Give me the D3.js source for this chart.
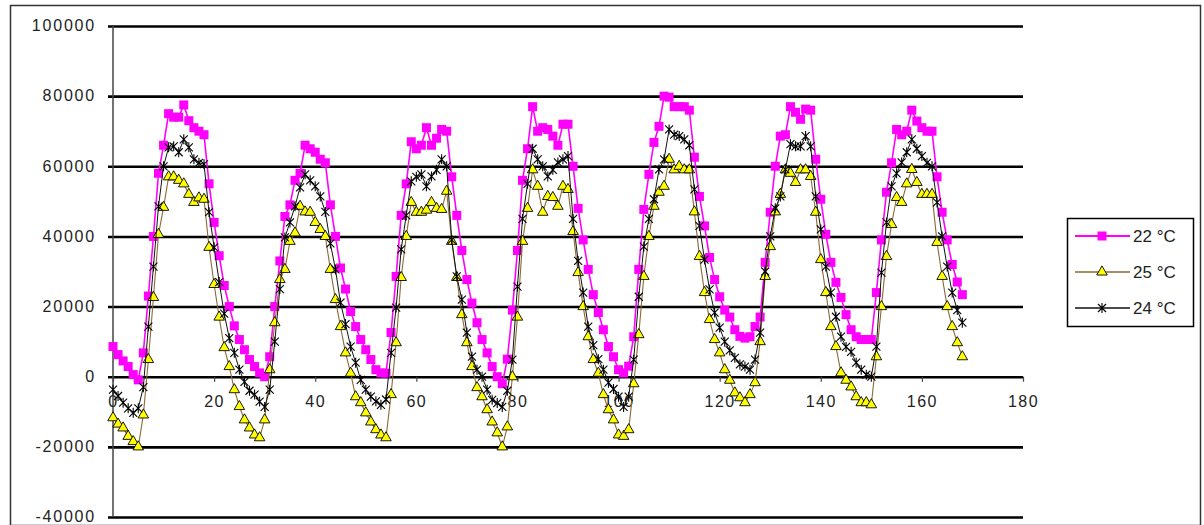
<!DOCTYPE html>
<html>
<head>
<meta charset="utf-8">
<script src="https://cdn.jsdelivr.net/npm/d3@7"></script>
<style>
    body { margin: 0; background: #fff; }
    #chart-area text { font-family: "Liberation Sans", Arial, sans-serif; fill: #222; }
</style>
</head>
<body>
<div id="chart-area"></div>
<script>

// hourly values, index = hour
let temp22 = [
    8600, 6300, 4500, 2900, 600, -900, 6800, 23000, 40000, 58000,
    66000, 75000, 74000, 74000, 77500, 73000, 71000, 70000, 69000, 55000,
    44000, 34500, 26000, 20000, 14500, 10600, 7700, 4900, 2900, 1100,
    0, 5700, 20000, 33000, 45700, 49000, 56000, 58000, 66000, 65000,
    64000, 62000, 61000, 49000, 40000, 31000, 25000, 18600, 14300, 10600,
    7700, 4900, 2000, 1100, 1000, 12600, 28600, 46000, 55000, 67000,
    65000, 66000, 71000, 66000, 68000, 70500, 70000, 57000, 46000, 36000,
    27700, 21000, 15400, 10600, 6800, 2900, 0, -2000, 5000, 19000,
    36000, 56000, 65000, 77000, 70000, 71000, 70500, 68600, 66000, 72000,
    72000, 60000, 48000, 39000, 30600, 23400, 18300, 13400, 8600, 5700,
    2000, 1100, 3000, 11400, 30600, 47700, 57700, 66800, 71400, 80000,
    79700, 77000, 77000, 77000, 76000, 62600, 51400, 43000, 34000, 27700,
    22800, 19000, 17000, 13400, 11500, 11000, 11400, 14300, 17000, 32600,
    46900, 60000, 68600, 69000, 77000, 75400, 73400, 76300, 76000, 62000,
    50600, 40600, 32600, 26900, 22600, 17700, 13400, 11400, 10600, 10600,
    10600, 24000, 39000, 52600, 61000, 70500, 69000, 70000, 76000, 72900,
    71000, 70000, 70000, 57000, 46900, 39000, 32000, 27000, 23400
];

let temp25 = [
    -11700, -13500, -14600, -17000, -18500, -20000, -10900, 4900, 22600, 40600,
    48300, 57000, 57000, 56000, 55000, 52000, 49700, 51000, 50600, 36900,
    26300, 17000, 8300, 2900, -3700, -8500, -12300, -14600, -16600, -17400,
    -12300, 2000, 15400, 27700, 30600, 38600, 41000, 48600, 47000, 46900,
    44000, 42000, 40000, 30600, 22000, 14300, 6800, 1000, -5700, -7400,
    -10300, -12900, -15100, -16600, -17400, -5100, 9700, 28300, 40000, 49700,
    46900, 46900, 47500, 49700, 48000, 47700, 52900, 38600, 28300, 17700,
    9700, 2900, -3100, -5700, -9400, -12900, -16000, -20000, -14300, 0,
    17000, 38600, 48000, 59000, 54300, 46900, 51400, 51100, 48600, 54300,
    53400, 41400, 29700, 20000, 11400, 4900, 1000, -5100, -9400, -12300,
    -16600, -17000, -15100, -2000, 12000, 28600, 40000, 48600, 52600, 54300,
    62000, 59000, 60000, 59000, 59000, 47000, 34300, 24000, 16300, 10600,
    6800, 2000, -1000, -4600, -6000, -7400, -5100, -1700, 10000, 28600,
    37100, 47000, 52000, 59000, 58000, 55400, 59000, 59000, 57100, 46900,
    33400, 24000, 14300, 8600, 1100, -1000, -2900, -5700, -7400, -7400,
    -8000, 5700, 20000, 34300, 43400, 51100, 49700, 55000, 59100, 55400,
    52000, 52000, 52000, 38300, 28600, 20000, 14300, 9700, 5700
];

let temp24 = [
    -3700, -5500, -7400, -9000, -10300, -9000, -3000, 14300, 31400, 48600,
    60000, 65400, 65700, 64000, 67700, 65400, 62000, 61000, 60600, 46900,
    36900, 27000, 18000, 11000, 6800, 2000, -1500, -4000, -5100, -7100,
    -8600, -3700, 10000, 25000, 39700, 44000, 48600, 54000, 57700, 56000,
    54300, 51400, 47000, 38000, 30600, 21100, 15000, 8600, 4000, -900,
    -3700, -5700, -7000, -8000, -6500, 6800, 19700, 36300, 46000, 55700,
    57000, 57700, 54300, 57100, 59000, 62000, 60000, 39000, 28600, 22000,
    12600, 5700, 2000, 0, -3700, -6600, -7500, -8600, -4000, 4900,
    25700, 45000, 55000, 65000, 62000, 60000, 57100, 59000, 61100, 62000,
    62900, 45000, 33000, 24000, 14300, 9000, 5000, 2000, -1700, -3500,
    -5700, -8600, -5700, 4900, 22800, 37100, 45000, 50600, 59100, 62000,
    70500, 69000, 68600, 67700, 66000, 53400, 43000, 33400, 24900, 18300,
    14000, 10000, 7500, 5400, 3500, 2900, 2000, 4900, 12600, 30000,
    40000, 48000, 51400, 59100, 66300, 65700, 65700, 68600, 65700, 51400,
    42000, 31400, 24000, 17100, 11400, 8500, 7100, 4000, 2000, 570,
    0, 8600, 29700, 44000, 54300, 58000, 61100, 64000, 67700, 65000,
    62900, 61000, 60000, 49700, 40000, 31400, 24000, 19000, 15400
];

let seriesNames = ["22 °C", "25 °C", "24 °C"];
let xTickValues = [0, 20, 40, 60, 80, 100, 120, 140, 160, 180];
let yTickValues = [-40000, -20000, 0, 20000, 40000, 60000, 80000, 100000];


class HourlyLoadVis {

    constructor(parentElement, series) {
        this.parentElement = parentElement;
        this.series = series;
        this.initVis();
    }

    initVis() {
        let vis = this;

        vis.margin = {top: 26, right: 181, bottom: 8, left: 113};
        vis.totalWidth = 1204;
        vis.totalHeight = 525;
        vis.width = vis.totalWidth - vis.margin.left - vis.margin.right;
        vis.height = vis.totalHeight - vis.margin.top - vis.margin.bottom;

        vis.root = d3.select("#" + vis.parentElement).append("svg")
            .attr("width", vis.totalWidth)
            .attr("height", vis.totalHeight);

        // outer chart frame
        vis.root.append("rect")
            .attr("x", 10.5).attr("y", 5.5)
            .attr("width", 1190).attr("height", 520)
            .attr("fill", "#fff")
            .attr("stroke", "#333")
            .attr("stroke-width", 1.5);

        vis.svg = vis.root.append("g")
            .attr("transform", `translate(${vis.margin.left}, ${vis.margin.top})`);

        vis.x = d3.scaleLinear().domain([0, 180]).range([0, vis.width]);
        vis.y = d3.scaleLinear().domain([-40000, 100000]).range([vis.height, 0]);

        vis.wrangleData();
    }

    wrangleData() {
        let vis = this;
        vis.displayData = vis.series.map(s => ({
            name: s.name,
            values: s.values.map((v, i) => ({hour: i, value: v}))
        }));
        vis.updateVis();
    }

    updateVis() {
        let vis = this;

        // plain hyphen for negatives, like the original
        let numFormat = d => String(d);

        // horizontal gridlines + left ticks
        let yAxis = d3.axisLeft(vis.y)
            .tickValues(yTickValues)
            .tickSize(-vis.width - 5)
            .tickPadding(12)
            .tickFormat(numFormat);

        let gy = vis.svg.append("g")
            .attr("class", "y-axis")
            .attr("transform", "translate(-5,0)")
            .call(yAxis);
        gy.select(".domain").remove();
        gy.selectAll("line").attr("stroke", "#000").attr("stroke-width", 2.6);
        gy.selectAll("text")
            .attr("dy", "0.3em")
            .style("font-size", "16px")
            .style("letter-spacing", "1.8px");

        // vertical axis line
        vis.svg.append("line")
            .attr("x1", 0).attr("x2", 0)
            .attr("y1", 0).attr("y2", vis.height)
            .attr("stroke", "#444")
            .attr("stroke-width", 1.5);

        // x axis sits on y = 0
        let xAxis = d3.axisBottom(vis.x)
            .tickValues(xTickValues)
            .tickSize(5)
            .tickPadding(14)
            .tickFormat(numFormat);

        let gx = vis.svg.append("g")
            .attr("class", "x-axis")
            .attr("transform", "translate(0," + vis.y(0) + ")")
            .call(xAxis);
        gx.select(".domain").remove();
        gx.selectAll("line").attr("stroke", "#444").attr("stroke-width", 1.2);
        gx.selectAll("text")
            .style("font-size", "16px")
            .style("letter-spacing", "1.5px");

        let line = d3.line()
            .x(d => vis.x(d.hour))
            .y(d => vis.y(d.value));

        vis.styles = [
            {stroke: "#ff00ff", width: 1.6},
            {stroke: "#8a6a35", width: 1.1},
            {stroke: "#111", width: 1}
        ];

        vis.displayData.forEach((s, k) => {
            let st = vis.styles[k];
            vis.svg.append("path")
                .attr("d", line(s.values))
                .attr("fill", "none")
                .attr("stroke", st.stroke)
                .attr("stroke-width", st.width);

            vis.svg.append("g").selectAll("path")
                .data(s.values)
                .enter().append("path")
                .attr("transform", d => `translate(${vis.x(d.hour)},${vis.y(d.value)})`)
                .each(function() { vis.drawMarker(d3.select(this), k); });
        });

        // legend
        let legend = vis.root.append("g").attr("class", "legend");
        legend.append("rect")
            .attr("x", 1067.5).attr("y", 218.5)
            .attr("width", 126).attr("height", 108)
            .attr("fill", "#fff")
            .attr("stroke", "#000")
            .attr("stroke-width", 1.5);

        seriesNames.forEach((name, k) => {
            let ly = 236 + k * 36;
            legend.append("line")
                .attr("x1", 1075).attr("x2", 1130)
                .attr("y1", ly).attr("y2", ly)
                .attr("stroke", vis.styles[k].stroke)
                .attr("stroke-width", vis.styles[k].width + 0.3);
            let m = legend.append("path")
                .attr("transform", `translate(1102,${ly})`);
            vis.drawMarker(m, k);
            legend.append("text")
                .attr("x", 1133).attr("y", ly)
                .attr("dy", "0.36em")
                .style("font-size", "17px")
                .text(name);
        });
    }

    drawMarker(sel, k) {
        if (k === 0) {
            sel.attr("d", "M-4.5,-4.5H4.5V4.5H-4.5Z")
                .attr("fill", "#ff00ff");
        } else if (k === 1) {
            sel.attr("d", d3.symbol(d3.symbolTriangle, 48)())
                .attr("fill", "#ffff00")
                .attr("stroke", "#000")
                .attr("stroke-width", 0.9);
        } else {
            sel.attr("d", "M-4,-4L4,4M-4,4L4,-4M0,-5V5")
                .attr("fill", "none")
                .attr("stroke", "#000")
                .attr("stroke-width", 1.1);
        }
    }
}

let loadVis = new HourlyLoadVis("chart-area", [
    {name: seriesNames[0], values: temp22},
    {name: seriesNames[1], values: temp25},
    {name: seriesNames[2], values: temp24}
]);

</script>
</body>
</html>
